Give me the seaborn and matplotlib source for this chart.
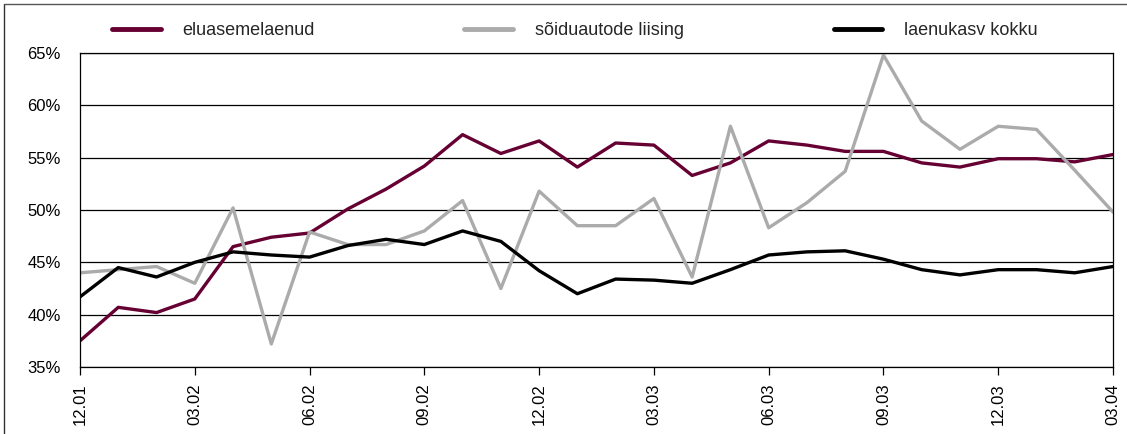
import matplotlib.pyplot as plt
import matplotlib.ticker as mticker
from matplotlib.lines import Line2D
import pandas as pd
import seaborn as sns

months = ["12.01", "01.02", "02.02", "03.02", "04.02", "05.02", "06.02",
          "07.02", "08.02", "09.02", "10.02", "11.02", "12.02", "01.03",
          "02.03", "03.03", "04.03", "05.03", "06.03", "07.03", "08.03",
          "09.03", "10.03", "11.03", "12.03", "01.04", "02.04", "03.04"]

eluasemelaenud = [37.5, 40.7, 40.2, 41.5, 46.5, 47.4, 47.8, 50.1, 52.0, 54.2,
                  57.2, 55.4, 56.6, 54.1, 56.4, 56.2, 53.3, 54.5, 56.6, 56.2,
                  55.6, 55.6, 54.5, 54.1, 54.9, 54.9, 54.6, 55.3]
soiduautode_liising = [44.0, 44.3, 44.6, 43.0, 50.2, 37.2, 47.9, 46.7, 46.7, 48.0,
                       50.9, 42.5, 51.8, 48.5, 48.5, 51.1, 43.6, 58.0, 48.3, 50.7,
                       53.7, 64.8, 58.5, 55.8, 58.0, 57.7, 53.8, 49.8]
laenukasv_kokku = [41.7, 44.5, 43.6, 45.0, 46.0, 45.7, 45.5, 46.6, 47.2, 46.7,
                   48.0, 47.0, 44.2, 42.0, 43.4, 43.3, 43.0, 44.3, 45.7, 46.0,
                   46.1, 45.3, 44.3, 43.8, 44.3, 44.3, 44.0, 44.6]

series_names = ["eluasemelaenud", "sõiduautode liising", "laenukasv kokku"]
colors = ["#660033", "#ABABAB", "#000000"]

df = pd.DataFrame({
    "pos": list(range(len(months))) * 3,
    "value": eluasemelaenud + soiduautode_liising + laenukasv_kokku,
    "series": [n for n in series_names for _ in months],
})

sns.set_style("white")
plt.rcParams["font.family"] = ["Liberation Sans", "DejaVu Sans"]

fig = plt.figure(figsize=(11.27, 4.34), dpi=100)
ax = fig.add_axes([80 / 1127, 1 - 367 / 434, (1113 - 80) / 1127, (367 - 53) / 434])

sns.lineplot(data=df, x="pos", y="value", hue="series", hue_order=series_names,
             palette=colors, linewidth=2.4, ax=ax, legend=False)

ax.set_xlim(0, len(months) - 1)
ax.set_ylim(35, 65)
ax.yaxis.set_major_locator(mticker.MultipleLocator(5))
ax.yaxis.set_major_formatter(mticker.FuncFormatter(lambda v, p: f"{v:.0f}%"))
ax.set_xticks(range(0, len(months), 3))
ax.set_xticklabels(months[::3], rotation=90)
ax.set_xlabel("")
ax.set_ylabel("")
ax.grid(axis="y", color="black", linewidth=0.9)
ax.set_axisbelow(True)
for s in ax.spines.values():
    s.set_color("black")
    s.set_linewidth(0.9)
ax.tick_params(axis="x", direction="out", length=6, width=0.9, color="black",
               labelsize=12, labelcolor="black", pad=6, bottom=True)
ax.tick_params(axis="y", length=0, labelsize=12, labelcolor="black", pad=14)

handles = [Line2D([], [], color=c, linewidth=3.5) for c in colors]
fig.legend(handles, series_names, loc="center", bbox_to_anchor=(0.51, 0.93),
           ncol=3, frameon=False, fontsize=13, columnspacing=8.3,
           handlelength=2.7, handletextpad=1.2)

# outer frame around the figure
fig.add_artist(Line2D([4 / 1127, 4 / 1127], [0, 1 - 4 / 434], color="#333333",
                      linewidth=1.0, transform=fig.transFigure))
fig.add_artist(Line2D([4 / 1127, 1], [1 - 4 / 434, 1 - 4 / 434], color="#555555",
                      linewidth=1.0, transform=fig.transFigure))

fig.savefig("out.png", dpi=100)
